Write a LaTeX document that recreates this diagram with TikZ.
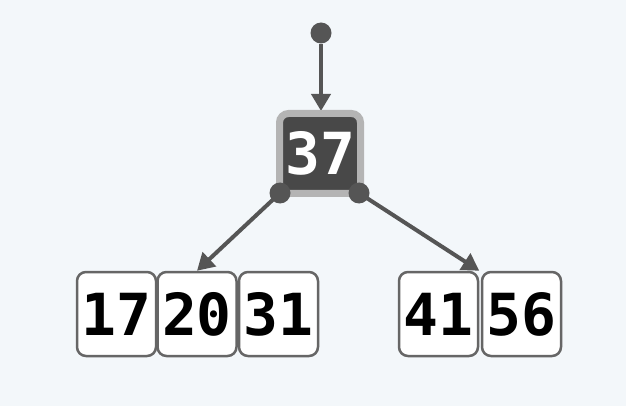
\documentclass[tikz,border=0pt]{standalone}
\usepackage{fontspec}
\setmonofont{DejaVu Sans Mono}
\usetikzlibrary{arrows.meta}
\definecolor{bgcol}{HTML}{F3F7FA}
\definecolor{edgecol}{HTML}{555555}
\definecolor{boxcol}{HTML}{666666}
\definecolor{rootcol}{HTML}{484848}
\definecolor{rimcol}{HTML}{B4B4B4}
\tikzset{
  key/.style={draw=boxcol,line width=2.5pt,fill=white,rounded corners=9pt,
    minimum width=79pt,minimum height=84pt,inner sep=0pt,
    font=\fontsize{58}{60}\selectfont\ttfamily\bfseries},
  rootkey/.style={key,draw=rimcol,line width=7pt,fill=rootcol,text=white,
    minimum width=81pt,minimum height=80pt},
  dot/.style={circle,fill=edgecol,minimum size=21pt,inner sep=0pt},
  link/.style={draw=edgecol,line width=4pt,-{Triangle[length=17pt,width=19pt]}}
}
\begin{document}
\begin{tikzpicture}[x=1pt,y=-1pt]
\fill[bgcol] (0,0) rectangle (626,406);
\useasboundingbox (0,0) rectangle (626,406);
% root
\node[dot] (top) at (321,33) {};
\draw[link] (top) -- (321,111) coordinate (rootin);
\node[rootkey] (r37) at (320,153.5) {37};
% leaves
\node[key] (k17) at (116.5,314) {17};
\node[key] (k20) at (197,314) {20};
\node[key] (k31) at (278.5,314) {31};
\node[key] (k41) at (438.5,314) {41};
\node[key] (k56) at (521.5,314) {56};
% child pointers
\node[dot] (pl) at (280,193) {};
\node[dot] (pr) at (359,193) {};
\draw[link] (pl.center) -- (k20.north);
\draw[link] (pr.center) -- (k41.north east);
\end{tikzpicture}
\end{document}
